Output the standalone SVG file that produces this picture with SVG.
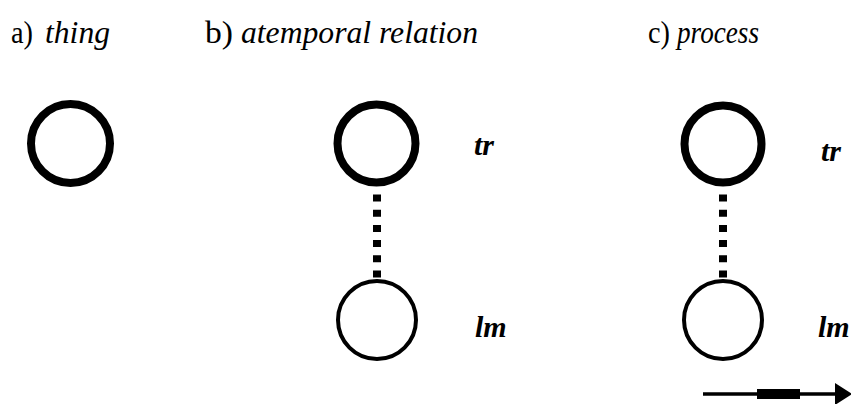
<svg xmlns="http://www.w3.org/2000/svg" width="851" height="404" viewBox="0 0 851 404">
<style>
.t{font-family:"Liberation Serif","Times New Roman",serif;font-size:31px;fill:#000}
.i{font-style:italic}
.lab{font-family:"Liberation Serif","Times New Roman",serif;font-size:30px;font-style:italic;font-weight:bold;fill:#000}
.thick{fill:none;stroke:#000;stroke-width:8}
.thin{fill:none;stroke:#000;stroke-width:4}
.dots{stroke:#000;stroke-width:8;stroke-dasharray:7 8.2}
</style>
<rect width="851" height="404" fill="#fff"/>
<g id="title-a"><text class="t" x="11" y="43" textLength="22" lengthAdjust="spacingAndGlyphs">a)</text><text class="t i" x="45" y="43" textLength="65" lengthAdjust="spacingAndGlyphs">thing</text></g>
<g id="title-b"><text class="t" x="205" y="43" textLength="28" lengthAdjust="spacingAndGlyphs">b)</text><text class="t i" x="241" y="43" textLength="237" lengthAdjust="spacingAndGlyphs">atemporal relation</text></g>
<g id="title-c"><text class="t" x="648" y="43" textLength="22" lengthAdjust="spacingAndGlyphs">c)</text><text class="t i" x="677" y="43" textLength="82" lengthAdjust="spacingAndGlyphs">process</text></g>
<g id="thing"><circle class="thick" cx="70.5" cy="143.5" r="39.5"/></g>
<g id="b-tr"><circle class="thick" cx="376.5" cy="143.5" r="39"/><text class="lab" x="474" y="155">tr</text></g>
<g id="b-lm"><circle class="thin" cx="377" cy="320" r="39"/><text class="lab" x="475" y="337">lm</text></g>
<g id="c-tr"><circle class="thick" cx="723" cy="144" r="38.5"/><text class="lab" x="821" y="161">tr</text></g>
<g id="c-lm"><circle class="thin" cx="723" cy="320" r="39"/><text class="lab" x="818" y="337">lm</text></g>
<g id="connectors">
<line class="dots" x1="377" y1="194.5" x2="377" y2="281"/>
<line class="dots" x1="723" y1="194.5" x2="723" y2="281"/>
<g id="time-arrow">
<line x1="703" y1="394" x2="840" y2="394" stroke="#000" stroke-width="3.5"/>
<line x1="757" y1="394" x2="800" y2="394" stroke="#000" stroke-width="10"/>
<polygon points="835,383 852,394 835,405" fill="#000"/>
</g>
</g>
</svg>
